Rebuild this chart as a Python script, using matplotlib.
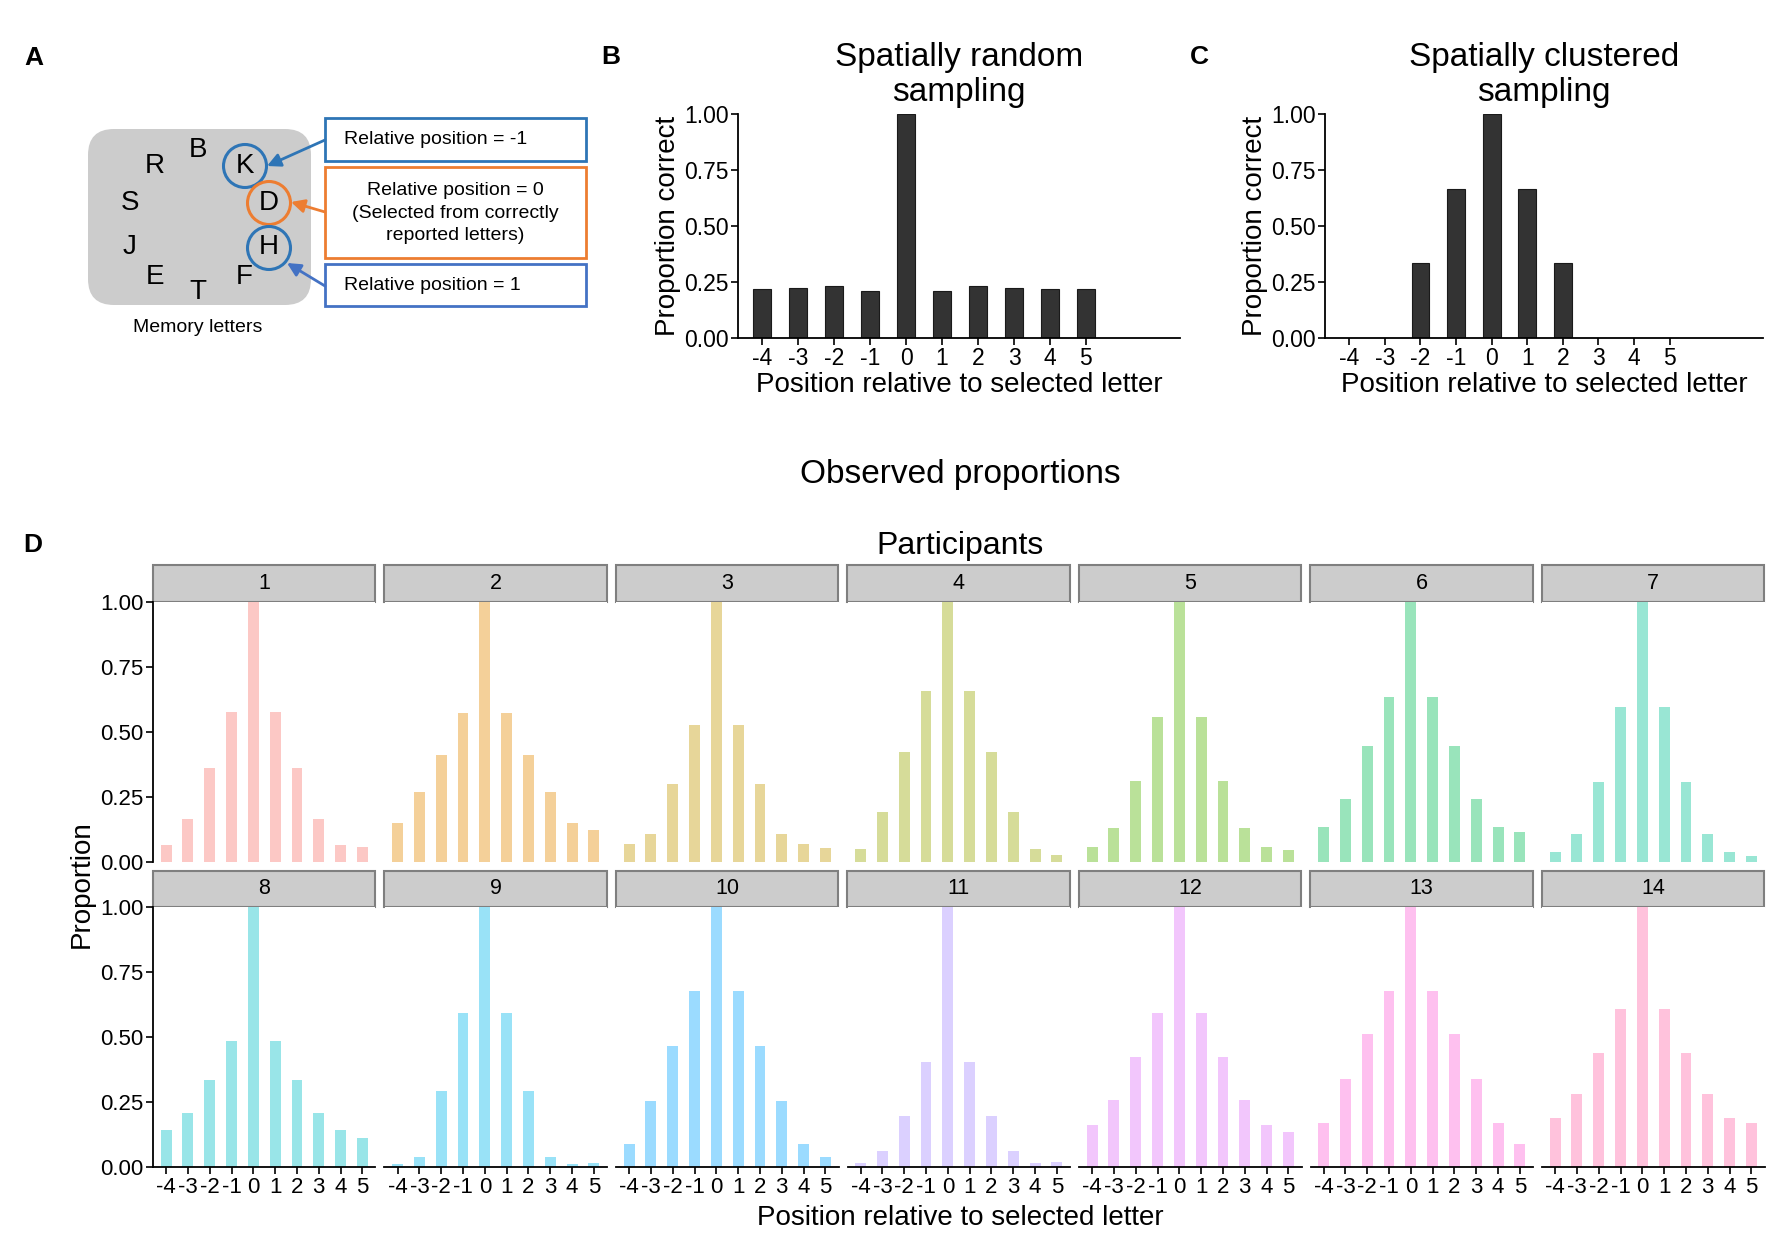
import numpy as np
import matplotlib
matplotlib.use('Agg')
from matplotlib import pyplot as plt
from matplotlib.patches import Circle, FancyBboxPatch, Rectangle

plt.rcParams['font.family'] = ['Liberation Sans', 'DejaVu Sans']
plt.rcParams['axes.unicode_minus'] = False

offsets = [-4, -3, -2, -1, 0, 1, 2, 3, 4, 5]
y_ticks = [0, 0.25, 0.5, 0.75, 1.0]
y_tick_labels = ['0.00', '0.25', '0.50', '0.75', '1.00']

random_sampling = [0.217, 0.225, 0.234, 0.210, 1.0, 0.210, 0.234, 0.225, 0.217, 0.219]
clustered_sampling = [0, 0, 0.333, 0.667, 1.0, 0.667, 0.333, 0, 0, 0]

participant_ids = list(range(1, 15))
p1 = [0.064, 0.165, 0.360, 0.578, 1.0, 0.578, 0.360, 0.165, 0.064, 0.059]
p2 = [0.150, 0.270, 0.410, 0.574, 1.0, 0.574, 0.410, 0.270, 0.150, 0.124]
p3 = [0.071, 0.106, 0.301, 0.526, 1.0, 0.526, 0.301, 0.106, 0.071, 0.053]
p4 = [0.050, 0.194, 0.423, 0.659, 1.0, 0.659, 0.423, 0.194, 0.050, 0.028]
p5 = [0.059, 0.132, 0.313, 0.556, 1.0, 0.556, 0.313, 0.132, 0.059, 0.045]
p6 = [0.136, 0.242, 0.446, 0.636, 1.0, 0.636, 0.446, 0.242, 0.136, 0.114]
p7 = [0.037, 0.109, 0.306, 0.597, 1.0, 0.597, 0.306, 0.109, 0.037, 0.024]
p8 = [0.141, 0.206, 0.335, 0.486, 1.0, 0.486, 0.335, 0.206, 0.141, 0.112]
p9 = [0.013, 0.040, 0.292, 0.591, 1.0, 0.591, 0.292, 0.040, 0.013, 0.015]
p10 = [0.087, 0.254, 0.465, 0.676, 1.0, 0.676, 0.465, 0.254, 0.087, 0.040]
p11 = [0.014, 0.063, 0.196, 0.405, 1.0, 0.405, 0.196, 0.063, 0.014, 0.020]
p12 = [0.162, 0.259, 0.423, 0.591, 1.0, 0.591, 0.423, 0.259, 0.162, 0.133]
p13 = [0.168, 0.338, 0.510, 0.676, 1.0, 0.676, 0.510, 0.338, 0.168, 0.088]
p14 = [0.190, 0.282, 0.438, 0.606, 1.0, 0.606, 0.438, 0.282, 0.190, 0.168]
participants = [p1, p2, p3, p4, p5, p6, p7, p8, p9, p10, p11, p12, p13, p14]

memory_letters = ['B', 'R', 'K', 'S', 'D', 'J', 'H', 'E', 'T', 'F']
letter_xy = [(198, 150), (155, 166), (245, 166), (130, 203), (269, 203),
             (130, 247), (269, 247), (155, 277), (198, 292), (244, 277)]

W, H = 1772, 1234
blue = '#2E75B6'
orange = '#ED7D31'


def px_rect(left, top, right, bottom):
    return [left / W, 1 - bottom / H, (right - left) / W, (bottom - top) / H]


def hue_color(h, l=65, c=100, alpha=0.4):
    # ggplot style hcl colour, blended on white
    hr = np.radians(h)
    u = c * np.cos(hr)
    v = c * np.sin(hr)
    Xn, Yn, Zn = 95.047, 100.0, 108.883
    un = 4 * Xn / (Xn + 15 * Yn + 3 * Zn)
    vn = 9 * Yn / (Xn + 15 * Yn + 3 * Zn)
    Y = Yn * ((l + 16) / 116) ** 3
    up = u / (13 * l) + un
    vp = v / (13 * l) + vn
    X = Y * 9 * up / (4 * vp)
    Z = Y * (12 - 3 * up - 20 * vp) / (4 * vp)
    X, Y, Z = X / 100, Y / 100, Z / 100
    rgb = np.array([3.240479 * X - 1.537150 * Y - 0.498535 * Z,
                    -0.969256 * X + 1.875992 * Y + 0.041556 * Z,
                    0.055648 * X - 0.204043 * Y + 1.057311 * Z])
    rgb = np.clip(rgb, 0, 1)
    rgb = np.where(rgb <= 0.0031308, 12.92 * rgb, 1.055 * rgb ** (1 / 2.4) - 0.055)
    rgb = np.clip(rgb, 0, 1)
    return tuple(1 - alpha * (1 - rgb))


fig = plt.figure(figsize=(W / 100, H / 100), dpi=100)

# overlay in pixel coordinates for panel A and the free texts
ov = fig.add_axes([0, 0, 1, 1])
ov.set_xlim(0, W)
ov.set_ylim(H, 0)
ov.axis('off')
ov.patch.set_visible(False)

for lab, (x, y) in zip(['A', 'B', 'C', 'D'], [(34, 58), (611, 57), (1199, 57), (33, 545)]):
    ov.text(x, y, lab, fontsize=19, fontweight='bold', ha='center', va='center')

# ---- panel A
ov.add_patch(FancyBboxPatch((88, 129), 223, 176, boxstyle='round,pad=0,rounding_size=26',
                            facecolor='#cccccc', edgecolor='none'))
for lab, (x, y) in zip(memory_letters, letter_xy):
    ov.text(x, y, lab, fontsize=20, ha='center', va='center')
ov.text(198, 328, 'Memory letters', fontsize=14, ha='center', va='center')

for (x, y), col in zip([(245, 166), (269, 203), (269, 248)], [blue, orange, blue]):
    ov.add_patch(Circle((x, y), 21.5, facecolor='none', edgecolor=col, lw=2.2))

ov.add_patch(Rectangle((325, 118), 261, 43, facecolor='white', edgecolor=blue, lw=2))
ov.add_patch(Rectangle((325, 167), 261, 91, facecolor='white', edgecolor=orange, lw=2))
ov.add_patch(Rectangle((325, 264), 261, 42, facecolor='white', edgecolor='#4472C4', lw=2))
ov.text(344, 140, 'Relative position = -1', fontsize=14, va='center')
ov.text(455, 213, 'Relative position = 0\n(Selected from correctly\nreported letters)',
        fontsize=14, va='center', ha='center', multialignment='center', linespacing=1.4)
ov.text(344, 286, 'Relative position = 1', fontsize=14, va='center')

arrow_kw = dict(arrowstyle='-|>', lw=2, mutation_scale=20, shrinkA=0, shrinkB=0)
ov.annotate('', xy=(267, 166), xytext=(325, 140), arrowprops=dict(color=blue, **arrow_kw))
ov.annotate('', xy=(291, 202), xytext=(325, 212), arrowprops=dict(color=orange, **arrow_kw))
ov.annotate('', xy=(287, 263), xytext=(325, 286), arrowprops=dict(color='#4472C4', **arrow_kw))


# ---- panels B and C
def model_panel(left, right, values, title):
    ax = fig.add_axes(px_rect(left, 114, right, 338))
    ax.bar(offsets, values, width=0.5, color='#333333', edgecolor='#1a1a1a', linewidth=0.8)
    ax.set_xlim(-4.68, 7.62)
    ax.set_ylim(0, 1)
    ax.set_xticks(offsets)
    ax.set_yticks(y_ticks)
    ax.set_yticklabels(y_tick_labels)
    for s in ['top', 'right']:
        ax.spines[s].set_visible(False)
    for s in ['left', 'bottom']:
        ax.spines[s].set_linewidth(1.3)
    ax.tick_params(labelsize=16.5, length=5, width=1.2, pad=1.5)
    mid = (left + right) / 2
    ov.text(mid, 75, title, fontsize=24, ha='center', va='center',
            multialignment='center', linespacing=1.15)
    ov.text(mid, 385, 'Position relative to selected letter', fontsize=20,
            ha='center', va='center')
    ov.text(left - 70, 226, 'Proportion correct', fontsize=20, rotation=90,
            ha='center', va='center')
    return ax


model_panel(738, 1180, random_sampling, 'Spatially random\nsampling')
model_panel(1325, 1763, clustered_sampling, 'Spatially clustered\nsampling')

# ---- panel D
ov.text(960, 475, 'Observed proportions', fontsize=24, ha='center', va='center')
ov.text(960, 546, 'Participants', fontsize=23, ha='center', va='center')
ov.text(960, 1218, 'Position relative to selected letter', fontsize=20, ha='center', va='center')
ov.text(82, 884, 'Proportion', fontsize=20, rotation=90, ha='center', va='center')

left0, pw, gap = 153, 222.5, 9
rows = [(565, 602, 862), (871, 907, 1167)]
for i, pid in enumerate(participant_ids):
    r, c = divmod(i, 7)
    strip_top, top, bottom = rows[r]
    left = left0 + c * (pw + gap)
    right = left + pw
    ax = fig.add_axes(px_rect(left, top, right, bottom))
    col = hue_color(15 + i * 360 / 14)
    ax.bar(offsets, participants[i], width=0.5, color=col, linewidth=0)
    ax.set_xlim(-4.6, 5.6)
    ax.set_ylim(0, 1)
    ax.set_xticks(offsets)
    ax.set_yticks(y_ticks)
    ax.set_yticklabels(y_tick_labels)
    for s in ['top', 'right']:
        ax.spines[s].set_visible(False)
    ax.spines['left'].set_linewidth(1.3)
    ax.spines['bottom'].set_linewidth(1.3)
    ax.tick_params(labelsize=16, length=5, width=1.2, pad=2)
    if c != 0:
        ax.spines['left'].set_visible(False)
        ax.tick_params(axis='y', left=False, labelleft=False)
    if r == 0:
        ax.spines['bottom'].set_visible(False)
        ax.tick_params(axis='x', bottom=False, labelbottom=False)
    ov.add_patch(Rectangle((left, strip_top), pw, top - strip_top, facecolor='#cccccc',
                           edgecolor='#7f7f7f', lw=1.5))
    ov.text(left + pw / 2, (strip_top + top) / 2, str(pid), fontsize=15.5,
            ha='center', va='center')

fig.savefig('out.png', dpi=100)
